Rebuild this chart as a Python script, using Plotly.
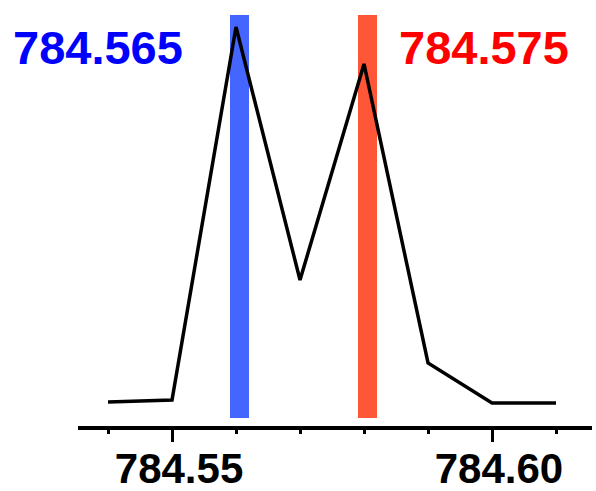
import plotly.graph_objects as go

# Data
mz = [784.54, 784.55, 784.56, 784.57, 784.58, 784.59, 784.60, 784.61]
intensity = [5.84, 6.33, 97.08, 35.52, 88.08, 15.33, 5.6, 5.6]

marker_pos = [784.5605, 784.5805]
marker_colors = ["#4466FF", "#FF5638"]
marker_base = 1.95
marker_top = 100.0

label_texts = ["784.565", "784.575"]
label_colors = ["#0000FF", "#FF0000"]

tick_vals = [784.55, 784.60]
tick_text = ["784.55", "784.60"]

FONT = "Liberation Sans, Arial, sans-serif"

fig = go.Figure()

fig.add_trace(go.Bar(
    x=marker_pos,
    y=[marker_top - marker_base] * len(marker_pos),
    base=[marker_base] * len(marker_pos),
    width=0.003,
    marker=dict(color=marker_colors, line=dict(width=0)),
    showlegend=False,
    hoverinfo="skip",
))

fig.add_trace(go.Scatter(
    x=mz, y=intensity, mode="lines",
    line=dict(color="black", width=3.5),
    showlegend=False,
))

fig.add_annotation(x=0.039, y=0.922, xref="paper", yref="paper",
                   text="<b>%s</b>" % label_texts[0], showarrow=False,
                   xanchor="center", yanchor="middle",
                   font=dict(family=FONT, size=47, color=label_colors[0]))
fig.add_annotation(x=0.79, y=0.922, xref="paper", yref="paper",
                   text="<b>%s</b>" % label_texts[1], showarrow=False,
                   xanchor="center", yanchor="middle",
                   font=dict(family=FONT, size=47, color=label_colors[1]))

fig.update_layout(
    width=596, height=491,
    margin=dict(l=78, r=4, t=15, b=65, autoexpand=False),
    plot_bgcolor="white", paper_bgcolor="white",
    bargap=0,
    xaxis=dict(
        range=[784.53531, 784.615625],
        automargin=False,
        showgrid=False, zeroline=False,
        showline=True, linecolor="black", linewidth=4,
        ticks="outside", ticklen=12, tickwidth=3, tickcolor="black",
        tickvals=tick_vals, ticktext=tick_text,
        tickfont=dict(family=FONT, size=42, color="black", weight="bold"),
        ticklabelshift=7,
        ticklabelstandoff=-9,
        minor=dict(dtick=0.01, tick0=784.54, ticks="outside", ticklen=4,
                   tickwidth=3, tickcolor="black", showgrid=False),
    ),
    yaxis=dict(range=[0, 100], visible=False, showgrid=False, zeroline=False,
               automargin=False),
)

fig.write_html("out.html")
